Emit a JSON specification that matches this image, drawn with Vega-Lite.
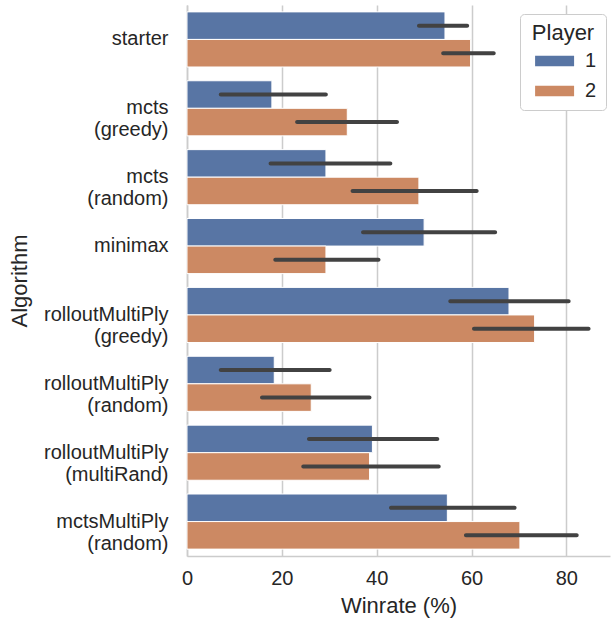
{
  "$schema": "https://vega.github.io/schema/vega-lite/v6.json",
  "autosize": "none",
  "width": 423,
  "height": 551,
  "padding": {"left": 187, "top": 5, "right": 3, "bottom": 65},
  "background": "white",
  "config": {
    "view": {"stroke": null},
    "font": "Liberation Sans",
    "axis": {"labelFont": "Liberation Sans", "titleFont": "Liberation Sans", "labelColor": "#262626", "titleColor": "#262626", "titleFontWeight": "normal", "labelFontSize": 20, "titleFontSize": 22}
  },
  "data": {
    "values": [
      {"Algorithm": "starter", "Player": "1", "winrate": 54.4, "lo": 48.5, "hi": 59.5},
      {"Algorithm": "starter", "Player": "2", "winrate": 59.8, "lo": 53.6, "hi": 65.1},
      {"Algorithm": "mcts\n(greedy)", "Player": "1", "winrate": 17.9, "lo": 6.7, "hi": 29.7},
      {"Algorithm": "mcts\n(greedy)", "Player": "2", "winrate": 33.8, "lo": 22.8, "hi": 44.7},
      {"Algorithm": "mcts\n(random)", "Player": "1", "winrate": 29.3, "lo": 17.2, "hi": 43.3},
      {"Algorithm": "mcts\n(random)", "Player": "2", "winrate": 48.9, "lo": 34.5, "hi": 61.5},
      {"Algorithm": "minimax", "Player": "1", "winrate": 50.0, "lo": 36.7, "hi": 65.4},
      {"Algorithm": "minimax", "Player": "2", "winrate": 29.3, "lo": 18.2, "hi": 40.8},
      {"Algorithm": "rolloutMultiPly\n(greedy)", "Player": "1", "winrate": 67.9, "lo": 55.1, "hi": 80.9},
      {"Algorithm": "rolloutMultiPly\n(greedy)", "Player": "2", "winrate": 73.3, "lo": 60.1, "hi": 85.1},
      {"Algorithm": "rolloutMultiPly\n(random)", "Player": "1", "winrate": 18.4, "lo": 6.7, "hi": 30.5},
      {"Algorithm": "rolloutMultiPly\n(random)", "Player": "2", "winrate": 26.2, "lo": 15.4, "hi": 38.9},
      {"Algorithm": "rolloutMultiPly\n(multiRand)", "Player": "1", "winrate": 39.1, "lo": 25.3, "hi": 53.2},
      {"Algorithm": "rolloutMultiPly\n(multiRand)", "Player": "2", "winrate": 38.5, "lo": 24.1, "hi": 53.5},
      {"Algorithm": "mctsMultiPly\n(random)", "Player": "1", "winrate": 54.9, "lo": 42.6, "hi": 69.5},
      {"Algorithm": "mctsMultiPly\n(random)", "Player": "2", "winrate": 70.2, "lo": 58.4, "hi": 82.6}
    ]
  },
  "encoding": {
    "y": {
      "field": "Algorithm", "type": "nominal", "sort": null,
      "scale": {"paddingInner": 0.2, "paddingOuter": 0.1},
      "axis": {"title": "Algorithm", "ticks": false, "domain": true, "domainColor": "#cccccc", "domainWidth": 1.5, "labelPadding": 19, "labelAlign": "right", "labelLineHeight": 22, "labelExpr": "split(datum.label, '\\n')", "titlePadding": 12, "grid": false}
    },
    "yOffset": {"field": "Player", "type": "nominal", "scale": {"paddingInner": 0}}
  },
  "layer": [
    {
      "mark": {"type": "bar", "stroke": "white", "strokeWidth": 1},
      "encoding": {
        "x": {
          "field": "winrate", "type": "quantitative",
          "scale": {"domain": [0, 89.2], "nice": false, "zero": true},
          "axis": {"title": "Winrate (%)", "values": [0, 20, 40, 60, 80], "ticks": false, "grid": true, "gridColor": "#cccccc", "gridWidth": 1.5, "domain": true, "domainColor": "#cccccc", "domainWidth": 1.5, "labelPadding": 12, "titlePadding": 7, "labelFlush": false}
        },
        "color": {
          "field": "Player", "type": "nominal",
          "scale": {"domain": ["1", "2"], "range": ["#5875a4", "#cc8963"]},
          "legend": {
            "title": "Player", "orient": "none", "legendX": 333, "legendY": 9,
            "titleFontSize": 22, "titleFontWeight": "normal", "titleColor": "#262626", "titleFont": "Liberation Sans", "titleAnchor": "middle",
            "labelFontSize": 20, "labelColor": "#262626", "labelFont": "Liberation Sans",
            "symbolType": "M-0.4,-0.55H3.6V0.55H-0.4Z", "symbolSize": 380, "symbolStrokeWidth": 0,
            "padding": 9, "strokeColor": "#cccccc", "fillColor": "white", "cornerRadius": 4,
            "rowPadding": 10, "labelOffset": 36, "titlePadding": 6
          }
        }
      }
    },
    {
      "mark": {"type": "bar", "color": "#424242", "height": 4, "cornerRadius": 2},
      "encoding": {
        "x": {"field": "lo", "type": "quantitative"},
        "x2": {"field": "hi"}
      }
    }
  ]
}
